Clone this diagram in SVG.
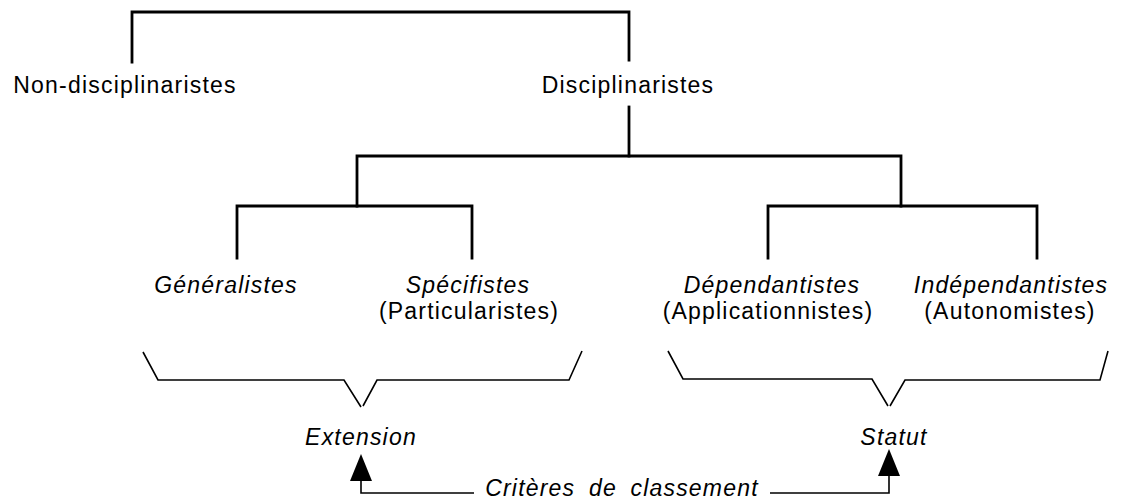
<svg xmlns="http://www.w3.org/2000/svg" width="1127" height="499" viewBox="0 0 1127 499">
<style>
.ln{fill:none;stroke:#000;stroke-width:2.8;stroke-linecap:square}
.br{fill:none;stroke:#000;stroke-width:1.6}
.t{font-family:"Liberation Sans",Arial,sans-serif;font-size:23px;letter-spacing:1.2px;fill:#000;text-anchor:middle}
.i{font-style:italic}
</style>
<rect width="1127" height="499" fill="#fff"/>
<g id="connectors">
<path class="ln" d="M132,62 V12 H629 V60"/>
<path class="ln" d="M629,107 V156"/>
<path class="ln" d="M357,206 V156 H901 V206"/>
<path class="ln" d="M237,258 V206 H472 V258"/>
<path class="ln" d="M768,258 V206 H1037 V258"/>
<path class="br" d="M143,352 L158,380 H344 L361,407 M363,406 L377,380 H569 L582,351"/>
<path class="br" d="M668,351 L683,379 H872 L888,406 M890,406 L905,380 H1100 L1108,351"/>
<path class="br" d="M361,478 V493 H474"/>
<path class="br" d="M770,493 H889 V473"/>
<polygon points="361,454 350,481 372,481" fill="#000"/>
<polygon points="889,449 878,476 900,476" fill="#000"/>
</g>
<g id="non-disciplinaristes"><text class="t" x="125" y="93">Non-disciplinaristes</text></g>
<g id="disciplinaristes"><text class="t" x="628" y="93">Disciplinaristes</text></g>
<g id="generalistes"><text class="t i" x="226" y="293">Généralistes</text></g>
<g id="specifistes"><text class="t i" x="468" y="293">Spécifistes</text><text class="t" x="469" y="319">(Particularistes)</text></g>
<g id="dependantistes"><text class="t i" x="772" y="293">Dépendantistes</text><text class="t" x="768" y="319">(Applicationnistes)</text></g>
<g id="independantistes"><text class="t i" x="1011" y="293">Indépendantistes</text><text class="t" x="1010" y="319">(Autonomistes)</text></g>
<g id="extension"><text class="t i" x="361" y="445">Extension</text></g>
<g id="statut"><text class="t i" x="894" y="445">Statut</text></g>
<g id="criteres"><text class="t i" x="622" y="496" style="word-spacing:6px">Critères de classement</text></g>
</svg>
